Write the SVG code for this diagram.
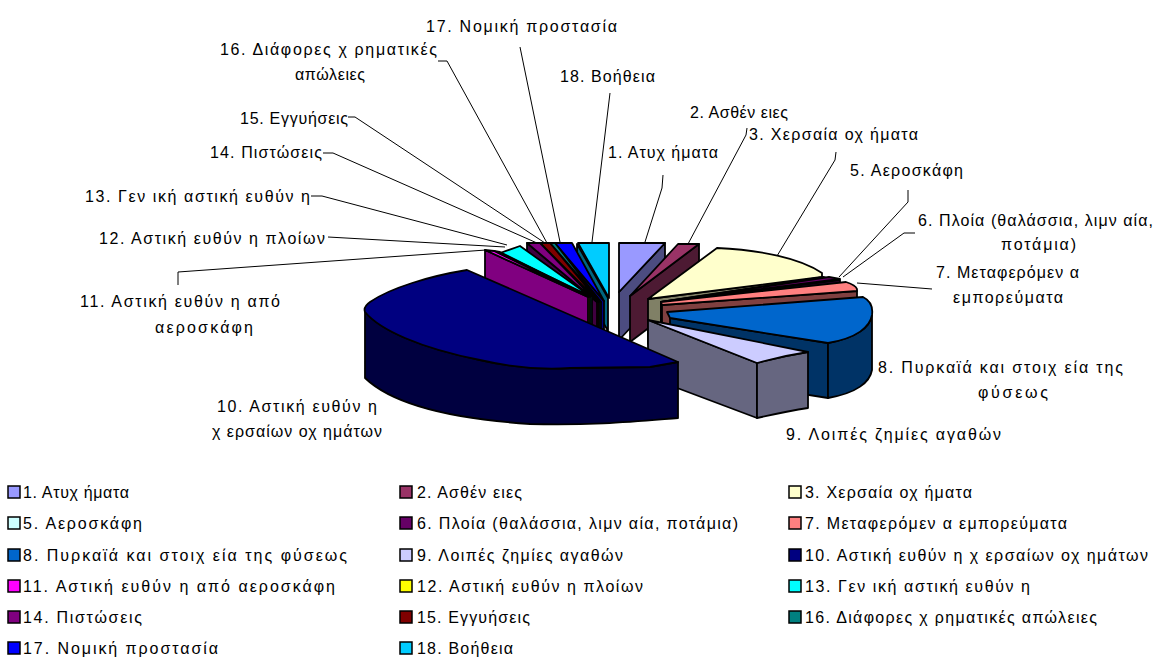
<svg xmlns="http://www.w3.org/2000/svg" width="1156" height="657" viewBox="0 0 1156 657">
<style>
  text { font-family: "Liberation Sans", Arial, "Noto Sans", sans-serif; font-size: 16px; fill: #000; }
  .f { stroke: #000; stroke-width: 1.8; stroke-linejoin: round; }
  .lead { fill: none; stroke: #000; stroke-width: 1; }
  .key { stroke: #000; stroke-width: 1.5; }
</style>
<rect width="1156" height="657" fill="#fff"/>

<!-- back-left fan: slices 18 .. 11 (drawn right to left) -->
<g id="s18">
  <path class="f" fill="#006680" d="M577,244 L608,298 L608,331 L577,277 Z"/>
  <path class="f" fill="#00CCFF" d="M578,243 L609,243 L609,298 Z"/>
</g>
<g id="s17">
  <path class="f" fill="#000080" d="M555,243 L604,301 L604,334 L555,276 Z"/>
  <path class="f" fill="#0000FF" d="M555,243 L572,243 L604,301 Z"/>
</g>
<g id="s16">
  <path class="f" fill="#004040" d="M550,243 L601,302 L601,335 L550,276 Z"/>
  <path class="f" fill="#008080" d="M550,243 L555,243 L601,302 Z"/>
</g>
<g id="s15">
  <path class="f" fill="#400000" d="M540,243 L599,302 L599,335 L540,276 Z"/>
  <path class="f" fill="#800000" d="M540,243 L550,243 L599,302 Z"/>
</g>
<g id="s14">
  <path class="f" fill="#400040" d="M527,243 L597,302 L597,335 L527,276 Z"/>
  <path class="f" fill="#800080" d="M527,243 L540,243 L597,302 Z"/>
</g>
<g id="s13">
  <path class="f" fill="#008080" d="M500,253 L592,297 L592,334 L500,290 Z"/>
  <path class="f" fill="#00FFFF" d="M500,253 L520,246 L590,296 Z"/>
</g>
<g id="s12">
  <path class="f" fill="#808000" d="M494,251 L590,297 L590,335 L494,289 Z"/>
  <path class="f" fill="#FFFF00" d="M494,251 L500,252 L590,297 Z"/>
</g>
<g id="s11">
  <path class="f" fill="#800080" d="M485,250 L588,297 L588,336 L485,289 Z"/>
  <path class="f" fill="#FF00FF" d="M485,250 L494,251 L588,297 Z"/>
</g>

<!-- back-right: slices 1 .. 9 -->
<g id="s1">
  <path class="f" fill="#4C4C80" d="M665,243 L619,292 L619,340 L665,291 Z"/>
  <path class="f" fill="#9999FF" d="M619,243 L665,243 L619,292 Z"/>
</g>
<g id="s2">
  <path class="f" fill="#4D1A33" d="M699,244 L630,296 L630,342 L699,290 Z"/>
  <path class="f" fill="#993366" d="M678,244 L699,244 L630,296 Z"/>
</g>
<g id="s3">
  <path class="f" fill="#808066" d="M648,299 L822,277 L822,322 L648,344 Z"/>
  <path class="f" fill="#FFFFCC" d="M648,299 L717,248 C760,250 800,258 822,273 L822,277 Z"/>
</g>
<g id="s5">
  <path class="f" fill="#668080" d="M661,302 L826,279 L826,324 L661,347 Z"/>
  <path class="f" fill="#CCFFFF" d="M661,302 L824,277 L829,279 Z"/>
</g>
<g id="s6">
  <path class="f" fill="#330033" d="M661,303 L840,280 L840,325 L661,348 Z"/>
  <path class="f" fill="#660066" d="M661,302 L829,277 L840,279 Z"/>
</g>
<g id="s7">
  <path class="f" fill="#804040" d="M662,305 L857,291 L857,336 L662,350 Z"/>
  <path class="f" fill="#FF8080" d="M661,302 L846,282 C852,284 856,286 857,289 L857,291 L662,305 Z"/>
</g>
<g id="s8">
  <path class="f" fill="#003366" d="M670,318 L828,343 L828,398 L670,373 Z"/>
  <path class="f" fill="#003366" d="M828,343 C857,338 870,327 872,315 L872,370 C870,382 857,393 828,398 Z"/>
  <path class="f" fill="#0066CC" d="M667,312 L863,297 C871,301 873,308 872,315 C870,327 857,338 828,343 L670,318 Z"/>
</g>
<g id="s9">
  <path class="f" fill="#666680" d="M648,320 L757,363 L757,418 L648,377 Z"/>
  <path class="f" fill="#666680" d="M757,363 C775,358 795,354 808,352 L808,408 C795,410 775,414 757,418 Z"/>
  <path class="f" fill="#CCCCFF" d="M648,320 L808,352 C795,354 775,358 757,363 Z"/>
</g>
<g id="s10">
  <path class="f" fill="#000040" d="M365,312 L365,378 C390,402 440,418 530,424 C590,426 640,421 678,418 L678,362 L650,367 L570,368 C540,370 510,367 480,360 C420,348 380,330 365,312 Z"/>
  <path class="f" fill="#000080" d="M678,362 L467,270 C430,276 390,288 370,302 Q363,307 365,312 C380,330 420,348 480,360 C510,367 540,370 570,368 L650,367 Z"/>
</g>

<!-- leader lines -->
<g id="leaders">
  <polyline class="lead" points="520,47 560,242"/>
  <polyline class="lead" points="438,61 447,61 547,243"/>
  <polyline class="lead" points="348,117 355,117 545,243"/>
  <polyline class="lead" points="323,153 333,153 537,243"/>
  <polyline class="lead" points="311,196 322,196 507,245"/>
  <polyline class="lead" points="328,237 505,247"/>
  <polyline class="lead" points="178,285 178,272 486,250"/>
  <polyline class="lead" points="610,93 592,242"/>
  <polyline class="lead" points="663,175 662,188 645,242"/>
  <polyline class="lead" points="747,128 746,135 688,244"/>
  <polyline class="lead" points="836,152 835,160 777,256"/>
  <polyline class="lead" points="908,190 908,202 839,277"/>
  <polyline class="lead" points="915,233 904,233 843,277"/>
  <polyline class="lead" points="857,283 932,289"/>
</g>

<!-- slice labels -->
<g id="labels">
  <text x="426" y="32" textLength="191">17. Νομική προστασία</text>
  <text x="220" y="55" textLength="217">16. Διάφορες χ ρηματικές</text>
  <text x="295" y="80" textLength="70">απώλειες</text>
  <text x="560" y="82" textLength="95">18. Βοήθεια</text>
  <text x="240" y="124" textLength="108">15. Εγγυήσεις</text>
  <text x="210" y="158" textLength="112">14. Πιστώσεις</text>
  <text x="85" y="202" textLength="225">13. Γεν ική αστική ευθύν η</text>
  <text x="99" y="244" textLength="226">12. Αστική ευθύν η πλοίων</text>
  <text x="80" y="307" textLength="200">11. Αστική ευθύν η από</text>
  <text x="155" y="333" textLength="98">αεροσκάφη</text>
  <text x="217" y="412" textLength="160">10. Αστική ευθύν η</text>
  <text x="212" y="437" textLength="170">χ ερσαίων οχ ημάτων</text>
  <text x="786" y="440" textLength="215">9. Λοιπές ζημίες αγαθών</text>
  <text x="878" y="373" textLength="245">8. Πυρκαϊά και στοιχ εία της</text>
  <text x="978" y="398" textLength="70">φύσεως</text>
  <text x="936" y="278" textLength="143">7. Μεταφερόμεν α</text>
  <text x="953" y="303" textLength="110">εμπορεύματα</text>
  <text x="918" y="226" textLength="235">6. Πλοία (θαλάσσια, λιμν αία,</text>
  <text x="1001" y="250" textLength="75">ποτάμια)</text>
  <text x="850" y="176" textLength="113">5. Αεροσκάφη</text>
  <text x="749" y="140" textLength="169">3. Χερσαία οχ ήματα</text>
  <text x="690" y="118" textLength="98">2. Ασθέν ειες</text>
  <text x="608" y="158" textLength="110">1. Ατυχ ήματα</text>
</g>

<!-- legend -->
<g id="legend">
  <rect class="key" x="8" y="486" width="12" height="12" fill="#9999FF"/>
  <text x="23" y="498" textLength="106">1. Ατυχ ήματα</text>
  <rect class="key" x="400" y="486" width="12" height="12" fill="#993366"/>
  <text x="417" y="498" textLength="105">2. Ασθέν ειες</text>
  <rect class="key" x="789" y="486" width="12" height="12" fill="#FFFFCC"/>
  <text x="805" y="498" textLength="167">3. Χερσαία οχ ήματα</text>

  <rect class="key" x="8" y="517" width="12" height="12" fill="#CCFFFF"/>
  <text x="23" y="529" textLength="119">5. Αεροσκάφη</text>
  <rect class="key" x="400" y="517" width="12" height="12" fill="#660066"/>
  <text x="417" y="529" textLength="321">6. Πλοία (θαλάσσια, λιμν αία, ποτάμια)</text>
  <rect class="key" x="789" y="517" width="12" height="12" fill="#FF8080"/>
  <text x="805" y="529" textLength="262">7. Μεταφερόμεν α εμπορεύματα</text>

  <rect class="key" x="8" y="549" width="12" height="12" fill="#0066CC"/>
  <text x="23" y="561" textLength="324">8. Πυρκαϊά και στοιχ εία της φύσεως</text>
  <rect class="key" x="400" y="549" width="12" height="12" fill="#CCCCFF"/>
  <text x="417" y="561" textLength="206">9. Λοιπές ζημίες αγαθών</text>
  <rect class="key" x="789" y="549" width="12" height="12" fill="#000080"/>
  <text x="805" y="561" textLength="343">10. Αστική ευθύν η χ ερσαίων οχ ημάτων</text>

  <rect class="key" x="8" y="580" width="12" height="12" fill="#FF00FF"/>
  <text x="23" y="592" textLength="312">11. Αστική ευθύν η από αεροσκάφη</text>
  <rect class="key" x="400" y="580" width="12" height="12" fill="#FFFF00"/>
  <text x="417" y="592" textLength="226">12. Αστική ευθύν η πλοίων</text>
  <rect class="key" x="789" y="580" width="12" height="12" fill="#00FFFF"/>
  <text x="805" y="592" textLength="225">13. Γεν ική αστική ευθύν η</text>

  <rect class="key" x="8" y="611" width="12" height="12" fill="#800080"/>
  <text x="23" y="623" textLength="119">14. Πιστώσεις</text>
  <rect class="key" x="400" y="611" width="12" height="12" fill="#800000"/>
  <text x="417" y="623" textLength="113">15. Εγγυήσεις</text>
  <rect class="key" x="789" y="611" width="12" height="12" fill="#008080"/>
  <text x="805" y="623" textLength="292">16. Διάφορες χ ρηματικές απώλειες</text>

  <rect class="key" x="8" y="642" width="12" height="12" fill="#0000FF"/>
  <text x="23" y="654" textLength="195">17. Νομική προστασία</text>
  <rect class="key" x="400" y="642" width="12" height="12" fill="#00CCFF"/>
  <text x="417" y="654" textLength="96">18. Βοήθεια</text>
</g>
</svg>
